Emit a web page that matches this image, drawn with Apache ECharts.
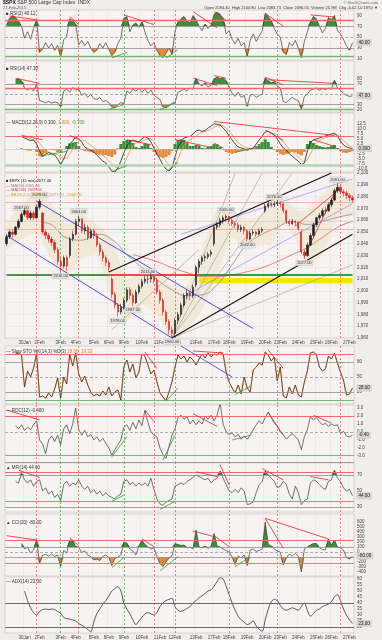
<!DOCTYPE html>
<html><head><meta charset="utf-8">
<script src="https://cdn.jsdelivr.net/npm/echarts@6/dist/echarts.min.js"></script>
<style>html,body{margin:0;padding:0;background:#f2eded}#c{width:382px;height:640px}</style>
</head><body><div id="c"></div><script>
// ---------- categories / ticks ----------
const N = 116;
const categories = Array.from({length: N}, (_, i) => String(i));
const dayTickIdx = [6,11,18,23,29,34,39,45,51,56,63,69,74,80,86,91,97,103,108,114];
const dayTickLabels = ['30Jan','2Feb','3Feb','4Feb','5Feb','6Feb','9Feb','10Feb','11Feb','12Feb','13Feb','17Feb','18Feb','19Feb','20Feb','23Feb','24Feb','25Feb','26Feb','27Feb'];
const redVLines = [10,24,49,74,90,111];
const greenVLines = [18,39,56];

// ---------- panel 1: RSI(2) ----------
const rsi2 = [72,85,90,86,80,70,48,60,46,66, 82,22,28,40,30,38,26,35,14,45, 52,84,80,74,36,44,34,42,30,22,
 26,38,30,40,28,16,22,38,48,85, 88,60,72,76,68,78,60,44,34,40, 26,16,12,20,30,18,60,78,84,88,
 80,76,90,82,70,62,74,66,72,92, 96,92,84,56,62,46,38,48,34,40, 14,44,56,42,52,62,94,88,80,66,
 56,50,22,18,40,34,44,30,12,42, 60,78,88,84,70,58,66,86,82,90, 62,56,46,34,26,40];
const rsi2RedTrends = [[1,89,10,82],[21,88,24,73],[39,91,49,73],[62,97,70,67],[69,97,73,81],[86,94,92,70],[101,91,109,87]];
const rsi2GreenTrends = [[35,12,40,22],[53,12,57,27]];

// ---------- panel 2: RSI(14) ----------
const rsi14 = [null,null,null,78,80,76,62,58,62,56, 70,38,36,34,36,33,35,34,26,56, 60,54,63,58,60,48,52,44,50,42,
 40,44,36,38,34,26,24,30,34,32, 56,52,60,56,62,54,60,52,58,48, 44,40,26,24,28,33,34,54,57,60,
 56,62,60,81,70,66,72,64,68,80, 83,80,82,76,63,52,46,54,44,48, 27,48,50,44,48,50,82,76,72,74,
 66,62,36,34,40,44,40,38,22,46, 50,58,60,62,58,61,59,62,60,77, 62,58,52,48,46,47];
const rsi14RedTrends = [[3,81,11,71],[62,81,70,67],[69,86,73,81],[86,83,92,68],[87,78,109,71]];
const rsi14GreenTrends = [[34,21,39,30],[51,21,56,33]];

// ---------- panel 3: MACD ----------
const macdLine = [null,null,null,null,null,6.3,5.5,4.8,4.2,4.5, 2.5,-1.0,-3.6,-2.5,-1.8,-2.5,-3.0,-5.0,-7.8,-5.0,
 -1.5,2.5,4.0,6.3,5.0,3.5,1.0,0.0,-0.5,-1.5, -3.0,-4.5,-6.0,-7.0,-9.0,-11.0,-11.5,-9.5,-6.0,-2.0,
 1.5,3.5,4.5,4.0,3.6,5.0,6.2,5.5,3.5,0.5, -2.5,-5.0,-8.0,-10.0,-11.0,-9.5,-4.0,1.0,3.5,5.5,
 6.0,6.3,7.5,9.0,9.5,8.8,9.2,10.5,11.5,12.6, 12.4,12.0,10.5,8.8,6.5,4.5,2.5,1.0,0.5,0.0,
 -0.5,0.0,0.5,2.5,4.5,6.5,8.5,8.8,8.0,7.0, 5.0,2.5,0.5,-0.5,-2.5,-3.5,-5.0,-6.0,-7.8,-7.0,
 -1.0,3.5,4.5,5.0,5.5,6.0,6.5,7.0,7.5,8.0, 6.5,4.0,2.0,1.0,0.5,0.3];
const macdSignal = [null,null,null,null,null,6.0,6.0,5.6,5.0,4.6, 4.2,3.0,1.0,-0.5,-1.5,-2.0,-2.4,-3.0,-4.2,-5.0,
 -4.5,-2.5,0.0,2.0,3.8,4.5,4.0,3.0,1.8,0.8, -0.5,-1.8,-3.0,-4.5,-5.8,-7.2,-8.8,-9.8,-9.5,-7.5,
 -4.5,-1.0,1.5,3.0,3.5,3.8,4.5,5.2,5.0,3.8, 1.5,-1.0,-3.8,-6.0,-8.0,-9.0,-8.5,-5.0,-1.5,1.5,
 3.5,4.8,5.6,6.5,7.6,8.4,8.8,9.2,10.0,10.8, 11.6,12.0,11.6,10.5,9.0,7.0,5.0,3.2,2.0,1.0,
 0.4,0.0,0.0,0.8,2.0,3.8,5.5,7.0,7.8,7.8, 7.0,5.5,3.5,1.8,0.0,-1.5,-2.8,-4.2,-5.5,-6.5,
 -5.5,-2.5,0.5,2.8,4.0,5.0,5.6,6.2,6.8,7.3, 7.2,6.0,4.2,2.8,1.6,1.0];
const macdHist = [null,null,null,null,null,0.3,-0.5,-0.8,-0.9,-0.2, -1.5,-3.5,-4.0,-2.0,-0.3,-0.5,-0.6,-1.5,-1.8,-0.2,
 1.5,2.8,3.2,3.5,1.5,-0.5,-1.0,-1.2,-1.5,-2.0, -2.5,-2.8,-3.2,-3.0,-3.5,-4.0,-2.8,0.3,2.5,4.0,
 4.5,4.5,3.0,1.0,0.5,1.5,2.8,2.5,0.5,-1.5, -3.0,-4.0,-4.5,-4.0,-3.0,-1.0,2.5,4.5,4.8,4.5,
 3.0,1.5,1.5,2.0,1.8,0.5,0.4,1.0,1.5,2.5, 2.2,1.0,-0.5,-1.5,-2.0,-2.5,-2.0,-1.5,-1.2,-1.0,
 -0.8,-0.3,0.5,1.5,2.5,3.5,4.8,3.5,1.0,-0.5, -1.5,-2.5,-3.0,-2.5,-2.0,-1.5,-1.8,-2.5,-3.2,-1.5,
 2.5,4.0,3.0,2.0,1.5,1.0,0.8,1.0,1.5,2.0, 0.5,-1.0,-1.8,-2.0,-1.5,-1.0];
const macdRedTrends = [[5,6.8,12,4.65],[21,6.8,24,4.65],[40,4.65,48,2.15],[56,4.65,69,0.5],[69,13.8,109,6.8],[69,3,72,0.5],[86,9.6,92,4.2],[102,4.65,109,1.3]];
const macdGreenTrends = [[11,-3.6,20,-1.2],[35,-11.4,40,-8.2],[53,-11.4,57,-6.6],[76,-1.7,81,0.4]];

// ---------- panel 4: price (open, close, low, high) ----------
const priceOHLC = [
 [2040,2046,2038,2048],[2046,2050,2044,2052],[2050,2048,2045,2052],[2048,2054,2047,2055],[2054,2059,2052,2061],
 [2059,2065,2058,2067],[2065,2068,2063,2070],[2068,2062,2060,2069],[2062,2066,2060,2068],[2066,2062,2060,2068],
 [2062,2071,2061,2073],[2071,2076,2069,2078],[2066,2050,2048,2067],[2050,2047,2044,2052],[2047,2044,2041,2049],
 [2044,2041,2038,2046],[2041,2035,2032,2043],[2035,2025,2022,2037],[2025,2021,2016,2028],[2021,2028,2019,2030],
 [2028,2021,2017,2030],[2030,2044,2028,2046],[2044,2048,2042,2051],[2048,2059,2047,2061],[2059,2061,2055,2064],
 [2061,2051,2049,2062],[2051,2054,2048,2057],[2054,2045,2043,2056],[2045,2051,2044,2053],[2051,2047,2044,2053],
 [2047,2039,2037,2049],[2039,2033,2030,2041],[2033,2028,2025,2035],[2028,2024,2021,2030],[2024,2020,2017,2026],
 [2010,1997,1994,2012],[1997,1988,1985,1999],[1988,1982,1978,1990],[1982,1986,1980,1989],[1986,1992,1984,1994],
 [1992,2001,1990,2003],[2001,1996,1993,2003],[1996,1990,1987,1998],[1990,1999,1989,2001],[1999,2004,1997,2006],
 [2004,2008,2002,2010],[2008,2010,2006,2013],[2010,2010,2006,2013],[2010,2012,2007,2015],[2012,2009,2006,2014],
 [2009,1999,1997,2011],[1999,1992,1989,2001],[1992,1982,1979,1994],[1982,1974,1971,1984],[1974,1967,1963,1976],
 [1967,1964,1960,1970],[1964,1975,1962,1977],[1975,1980,1972,1982],[1980,1988,1978,1990],[1988,1996,1986,1998],
 [1996,1998,1993,2001],[1998,1996,1992,2000],[1996,2003,1994,2005],[2005,2020,2003,2022],[2020,2025,2015,2027],
 [2025,2028,2022,2030],[2028,2029,2025,2031],[2029,2031,2027,2033],[2031,2033,2029,2035],[2040,2054,2038,2056],
 [2054,2056,2052,2058],[2056,2060,2054,2062],[2060,2062,2057,2064],[2062,2063,2059,2065],[2063,2060,2057,2064],
 [2060,2057,2055,2062],[2057,2056,2053,2059],[2056,2052,2050,2058],[2052,2054,2050,2056],[2054,2051,2048,2055],
 [2051,2044,2042,2052],[2044,2049,2043,2051],[2049,2050,2047,2052],[2050,2048,2046,2051],[2048,2051,2047,2053],
 [2051,2052,2049,2054],[2068,2072,2066,2074],[2072,2074,2070,2076],[2074,2073,2071,2075],[2073,2074,2071,2076],
 [2074,2075,2072,2077],[2075,2074,2071,2076],[2074,2068,2066,2075],[2068,2059,2057,2069],[2059,2057,2055,2061],
 [2057,2059,2056,2061],[2059,2058,2055,2060],[2058,2053,2051,2059],[2050,2033,2031,2052],[2033,2030,2027,2035],
 [2030,2039,2029,2041],[2039,2047,2038,2049],[2047,2056,2045,2058],[2056,2062,2054,2063],[2062,2064,2060,2066],
 [2064,2068,2062,2070],[2068,2068,2065,2071],[2068,2073,2067,2075],[2073,2077,2071,2079],[2077,2085,2076,2087],
 [2085,2088,2083,2091],[2088,2084,2082,2089],[2084,2083,2080,2086],[2083,2081,2078,2085],[2081,2079,2076,2083],
 [2079,2077,2075,2081]];
const ma50 = [[12,2058],[15,2056],[20,2045],[25,2043],[30,2048],[35,2043.6],[40,2030.8],[45,2019.7],[50,2009.5],[55,2000.9],[60,1995.8],[65,1996.7],[70,2005.2],[75,2022.3],[80,2039.4],[85,2047.9],[90,2053.9],[95,2059],[100,2056.4],[105,2059],[110,2062.4],[115,2065]];
const ma200 = [[42,2030.8],[50,2024.8],[55,2019.7],[60,2015.5],[65,2012],[70,2012],[75,2013.7],[80,2016.3],[85,2019.7],[90,2024.8],[95,2030.8],[100,2036.8],[105,2045.3],[110,2053.9],[115,2059]];
const bollinger = [[0,2035,2056],[5,2044,2074],[10,2048,2082],[15,2027,2074],[20,2014,2056],[25,2027,2065],[30,2031,2056],[35,1992,2044],[40,1975,2010],[45,1988,2018],[50,1980,2016],[55,1958,2005],[60,1967,2005],[65,1984,2035],[70,2014,2069],[75,2044,2069],[80,2035,2061],[85,2039,2065],[88,2039,2082],[92,2056,2082],[96,2044,2069],[100,2022,2069],[105,2031,2082],[110,2061,2095],[115,2065,2091]];
const priceBlueTrends = [[10,2076,82,1968],[0,2047,55,1960]];
const priceBlackTrends = [[34,2016,108,2100],[55,1960,115,2048]];
const priceGrayTrends = [[55,1960,76,2100],[55,1960,85,2100],[55,1960,95,2100],[55,1960,115,2022],[35,1967,64,2035]];
const priceThinBlueTrends = [[58,2048,115,2095],[58,1994,115,2074]];
const priceRedTrends = [[99,2029,110,2088],[96,2055,111,2087]];
const supportLevel = 2014;
const peakLabelIdx = [5,11,24,47,73,89,110];
const troughLabelIdx = [18,37,42,55,80,99];

// ---------- panel 5: Slow Stochastic ----------
const stochK = [null,null,null,96,98,94,30,62,50,68, 97,10,12,8,18,10,26,48,8,50, 36,96,72,98,56,40,52,34,20,12,
 16,12,22,14,30,12,20,24,4,70, 84,60,76,48,60,96,92,74,56,64, 40,18,10,2,20,40,70,94,86,92,
 80,90,84,74,86,96,88,98,90,96, 94,100,96,60,40,28,18,34,16,50, 28,20,64,70,78,74,100,94,82,90,
 42,70,12,8,30,16,34,14,10,40, 62,98,100,94,70,62,66,92,86,98, 78,60,44,14,16,28];
const stochRedTrends = [[46,100,50,67],[62,102,72,98],[87,104,92,67]];
const stochGreenTrends = [[53,1,57,28],[76,15,81,31]];
const stochBlueTrends = [[58,112,75,50]];

// ---------- panel 6: ROC ----------
const roc = [null,null,null,0.8,0.4,0.9,0.2,0.6,0.3,0.9, 1.4,-1.0,-1.5,-2.7,-1.0,-0.5,-1.2,-0.4,-1.6,0.4,
 0.9,-0.2,1.0,3.0,0.3,-0.4,0.2,-0.6,-0.3,-1.0, -0.6,-1.2,-0.8,-1.4,-2.0,-2.9,-2.2,-1.6,-1.0,0.6,
 0.9,0.2,1.2,0.4,1.5,0.8,2.7,1.2,0.0,-0.4, -0.6,-2.0,-2.8,-3.3,-1.8,-0.4,0.4,1.8,2.1,1.6,
 1.9,1.0,1.5,0.9,1.4,1.0,2.0,1.6,2.1,1.4, 2.1,3.6,1.0,0.0,-0.3,-0.1,-0.6,-0.3,-0.9,-0.5,
 -0.9,-0.4,0.3,0.9,1.4,1.0,1.8,2.5,1.8,1.1, 0.8,0.0,-0.3,-0.9,-0.5,-0.2,-0.6,-1.0,-2.2,-0.6,
 0.3,1.9,1.5,1.8,1.3,0.9,1.1,0.7,1.0,0.8, 0.9,-0.2,0.1,-0.5,-0.6,-0.4];
const rocRedTrends = [[0,2.75,11,1.5],[46,2.75,49,1.3],[62,2.3,70,0.7],[71,3.7,73,0],[87,2.4,92,-0.4],[102,2.1,108,1.1]];
const rocGreenTrends = [[35,-3.1,40,-0.6],[52,-3.5,56,-0.4],[75,-1.0,81,-0.4]];

// ---------- panel 7: MFI ----------
const mfi = [null,null,null,62,60,72,64,60,64,56, 62,64,50,54,46,50,42,46,38,58, 62,56,60,58,64,56,52,56,48,52,
 46,50,44,48,44,42,40,44,46,62, 64,58,61,56,60,57,60,56,66,52, 40,34,32,36,38,40,56,58,60,58,
 62,64,67,70,68,66,64,66,60,64, 66,75,66,58,50,48,52,48,54,50, 33,34,36,48,58,62,75,70,66,62,
 54,56,62,58,46,40,56,48,33,38, 40,60,64,62,58,54,52,62,64,76, 66,62,54,50,52,44];
const mfiRedTrends = [[4,76,11,67],[63,74,70,68],[71,82.5,74,57.5],[85,78,92,64],[101,68,107,64]];
const mfiGreenTrends = [[35,37,39,45],[51,27,56,37]];

// ---------- panel 8: CCI ----------
const cci = [null,null,null,null,null,170,60,100,-20,40, 240,-230,-60,-50,-80,-40,-90,-60,-290,30,
 -20,240,230,110,90,-10,20,-60,-90,-160, -140,-170,-90,-60,-110,-270,-130,-100,-60,200,
 180,60,20,-60,120,240,150,100,60,80, -90,-230,-290,-200,-120,-80,170,150,130,140,
 80,100,60,440,100,80,120,70,110,370, 120,100,60,30,0,-100,-250,-80,-120,-60,
 -270,40,60,10,30,60,600,150,120,60, 20,0,-260,-120,-40,-80,-30,-90,-400,60,
 100,140,170,170,90,50,40,260,140,240, 100,80,40,-110,-140,-80];
const cciRedTrends = [[0,327,10,240],[21,287,24,127],[45,260,49,107],[62,420,69,307],[69,327,74,107],[86,673,107,260],[86,673,92,73]];
const cciGreenTrends = [[35,-313,39,-113],[51,-380,57,-93],[76,-293,81,-93]];

// ---------- panel 9: ADX ----------
const adx = [null,null,null,null,null,null,50,42,36,32, 30,33,34.5,35,34.5,35,34.5,33,31.5,28,
 27,26.5,26,25,23,21.5,20,18,16,24, 31,35,39,42,46,50,52,53.5,50,40,
 35,31,26,22,25,28,31,32,31,30, 32,37,40,42,43,44,37,34,33,34,
 35.5,37,40,42,44.5,46,48,50,51,54, 58,61,60,54,47,40,34,29,26,24,
 22,23,25,21,18,16.5,26,35,41,43, 42,38,35,34,35,36,35,34,37,40,
 34,29,31,34,35,37,38,39,41,45, 47,42,35,30,26,23];

// ---------- builders ----------
const FONT = 'Liberation Sans';
const RED = '#f06a6a', GREEN = '#74b874', GRAY = '#8e8e8e';
const TR = '#ee2222', TG = '#2f9f2f';
const tickMap = {}; dayTickIdx.forEach((i, k) => { tickMap[i] = dayTickLabels[k]; });
const tickSet = new Set(dayTickIdx);

function vLines() {
  return redVLines.map(i => ({xAxis: i, lineStyle: {color: '#e25a5a', width: 0.7, type: [2, 2]}}))
    .concat(greenVLines.map(i => ({xAxis: i, lineStyle: {color: '#3f9f3f', width: 0.7, type: [2, 2]}})));
}
function hl(v, color, w, type) { return {yAxis: v, lineStyle: {color: color, width: w, type: type || 'solid'}}; }
function segs(arr, color, w) {
  return arr.map(t => [{coord: [t[0], t[1]], lineStyle: {color: color, width: w || 0.8, type: 'solid'}}, {coord: [t[2], t[3]]}]);
}
function ml(data) {
  return {symbol: ['none', 'none'], silent: true, animation: false, label: {show: false}, emphasis: {disabled: true}, data: data};
}

const grids = [], xAxes = [], yAxes = [], series = [];
function addPanel(gi, cfg) {
  grids.push({left: 5, right: 28, top: cfg.top, height: cfg.height, show: true, borderColor: '#c9c1c1', borderWidth: 0.6, backgroundColor: '#f7f3f3', outerBoundsMode: 'none'});
  xAxes.push({type: 'category', gridIndex: gi, data: categories, boundaryGap: true,
    axisLine: {show: false}, axisTick: {show: false},
    axisLabel: {show: !!cfg.xLabels, interval: (i) => tickSet.has(i), formatter: (v, i) => tickMap[i] || '', fontSize: 4.5, color: '#444', margin: 2, fontFamily: FONT},
    splitLine: {show: true, interval: (i) => tickSet.has(i), lineStyle: {color: '#e4dcdc', width: 0.5}}});
  const yl = {fontSize: 4.5, color: '#444', margin: 3, fontFamily: FONT};
  if (cfg.labels) yl.customValues = cfg.labels;
  if (cfg.fmt) yl.formatter = cfg.fmt;
  yAxes.push({type: 'value', gridIndex: gi, position: 'right', min: cfg.min, max: cfg.max, interval: cfg.interval,
    axisLine: {show: false}, axisTick: {show: false}, axisLabel: yl,
    splitLine: {show: !!cfg.split, lineStyle: {color: '#e6dfdf', width: 0.5}}});
}
function endLbl(dec) {
  return {show: true, formatter: p => (p.value == null ? '' : Number(p.value).toFixed(dec)), fontSize: 4.5, color: '#222', backgroundColor: '#d6d2d2', padding: [1, 2], distance: 4, fontFamily: FONT};
}
function mainLine(gi, data, mlData, dec, color, width) {
  return {type: 'line', xAxisIndex: gi, yAxisIndex: gi, data: data, symbol: 'none', silent: true, animation: false,
    lineStyle: {color: color || '#3a3a3a', width: width || 0.7}, z: 4, endLabel: endLbl(dec), markLine: ml(mlData)};
}
function fill(gi, data, th, above, color) {
  return {type: 'line', xAxisIndex: gi, yAxisIndex: gi, symbol: 'none', silent: true, animation: false, z: 2,
    data: data.map(v => v == null ? null : (above ? Math.max(v, th) : Math.min(v, th))),
    lineStyle: {width: 0, opacity: 0}, areaStyle: {origin: th, color: color, opacity: 1}};
}
const FG = '#3d8f3d', FO = '#e8893a';

// panel configs (layout only)
addPanel(0, {top: 10, height: 50, min: 8, max: 100, labels: [10, 30, 50, 70, 90]});
addPanel(1, {top: 61, height: 51, min: 16, max: 114, labels: [20, 30, 50, 70, 80]});
addPanel(2, {top: 113, height: 59, min: -11.5, max: 18, labels: [-10, -7.5, -5, -2.5, 0, 2.5, 5, 7.5, 10, 12.5], fmt: v => v.toFixed(1)});
addPanel(3, {top: 173, height: 165, min: 1960, max: 2100, interval: 10, split: true, xLabels: true});
addPanel(4, {top: 346, height: 58, min: -4, max: 112, labels: [20, 50, 80]});
addPanel(5, {top: 405, height: 58, min: -3.875, max: 3.375, labels: [-3, -2, -1, 0, 1, 2, 3], fmt: v => v.toFixed(1)});
addPanel(6, {top: 463, height: 49, min: 23.75, max: 85, labels: [30, 50, 70]});
addPanel(7, {top: 514, height: 62, min: -480, max: 760, labels: [-400, -300, -200, -100, 0, 100, 200, 300, 400, 500, 600]});
addPanel(8, {top: 577, height: 56, min: 15, max: 61.67, labels: [20, 25, 30, 35, 40, 45, 50, 55, 60], xLabels: true});

// P1
series.push(fill(0, rsi2, 70, true, FG), fill(0, rsi2, 30, false, FO));
series.push(mainLine(0, rsi2, vLines().concat([hl(82, RED, 1.4), hl(70, GRAY, 0.8), hl(50, GRAY, 0.7, [3, 2]), hl(30, GRAY, 0.8), hl(15, GREEN, 1.4)],
  segs(rsi2RedTrends, TR), segs(rsi2GreenTrends, TG)), 2));
// P2
series.push(fill(1, rsi14, 70, true, FG), fill(1, rsi14, 30, false, FO));
series.push(mainLine(1, rsi14, vLines().concat([hl(70, GRAY, 0.8), hl(62, RED, 1.4), hl(50, GRAY, 0.7, [3, 2]), hl(30, GRAY, 0.8), hl(22, GREEN, 1.4)],
  segs(rsi14RedTrends, TR), segs(rsi14GreenTrends, TG)), 2));
// P3 MACD
series.push({type: 'bar', xAxisIndex: 2, yAxisIndex: 2, data: macdHist, barWidth: 3, silent: true, animation: false, z: 2,
  itemStyle: {color: p => (p.value >= 0 ? FG : FO)}});
series.push({type: 'line', xAxisIndex: 2, yAxisIndex: 2, data: macdSignal, symbol: 'none', silent: true, animation: false, z: 3, lineStyle: {color: '#e89a4a', width: 0.8}});
series.push(mainLine(2, macdLine, vLines().concat([hl(6.3, RED, 1.2), hl(0, '#c4bcbc', 0.5), hl(-8.2, '#b4d4b4', 2.5)],
  segs(macdRedTrends, TR), segs(macdGreenTrends, TG)), 3, '#222', 0.8));
// P4 price
series.push({type: 'custom', xAxisIndex: 3, yAxisIndex: 3, data: bollinger, encode: {x: 0, y: [1, 2]}, silent: true, z: 0, animation: false, clip: true,
  renderItem: function (params, api) {
    if (params.dataIndex !== 0) return null;
    const up = bollinger.map(r => api.coord([r[0], r[2]]));
    const dn = bollinger.slice().reverse().map(r => api.coord([r[0], r[1]]));
    return {type: 'polygon', shape: {points: up.concat(dn), smooth: 0.25}, style: {fill: '#eee4c8', opacity: 0.6}};
  }});
series.push({type: 'line', xAxisIndex: 3, yAxisIndex: 3, data: ma50, smooth: true, symbol: 'none', silent: true, animation: false, z: 2, lineStyle: {color: '#8a8a8a', width: 0.8}});
series.push({type: 'line', xAxisIndex: 3, yAxisIndex: 3, data: ma200, smooth: true, symbol: 'none', silent: true, animation: false, z: 2, lineStyle: {color: '#e86060', width: 0.8}});
const pricePts = peakLabelIdx.map(i => ({coord: [i, priceOHLC[i][3]], value: priceOHLC[i][3], label: {position: 'top'}}))
  .concat(troughLabelIdx.map(i => ({coord: [i, priceOHLC[i][2]], value: priceOHLC[i][2], label: {position: 'bottom'}})));
series.push({type: 'candlestick', xAxisIndex: 3, yAxisIndex: 3, data: priceOHLC, barWidth: 1.8, silent: true, animation: false, z: 5,
  itemStyle: {color: '#222', color0: '#e02020', borderColor: '#222', borderColor0: '#e02020', borderWidth: 0.6},
  markArea: {silent: true, data: [[{coord: [64, 2011], itemStyle: {color: '#f3e600'}}, {coord: [115, 2006.5]}]]},
  markPoint: {symbol: 'circle', symbolSize: 1, silent: true, animation: false, itemStyle: {color: 'rgba(0,0,0,0)'},
    label: {show: true, fontSize: 4, color: '#333', backgroundColor: '#e6e2e2', borderColor: '#b8b0b0', borderWidth: 0.3, padding: [0.5, 1], distance: 1, fontFamily: FONT, formatter: p => Number(p.value).toFixed(2)},
    data: pricePts},
  markLine: ml(vLines().concat([hl(2075, '#f2b4b4', 1), hl(2052, '#f2b4b4', 1), hl(2059, '#cfc8c8', 0.6)],
    segs(priceGrayTrends, '#9a9a9a', 0.6), segs(priceThinBlueTrends, '#8080ee', 0.6),
    segs(priceBlueTrends, '#3a3ae6', 0.9), segs(priceBlackTrends, '#111', 1.1), segs(priceRedTrends, '#ee2a2a', 0.8),
    [[{coord: [0, supportLevel], lineStyle: {color: '#0a7a0a', width: 1.6, type: 'solid'}}, {coord: [34, supportLevel]}],
     [{coord: [34, supportLevel], lineStyle: {color: '#f01010', width: 1.6, type: 'solid'}}, {coord: [64, supportLevel]}],
     [{coord: [64, supportLevel], lineStyle: {color: '#0a7a0a', width: 1.6, type: 'solid'}}, {coord: [115, supportLevel]}]]))});
// P5 stochastic
series.push({type: 'line', xAxisIndex: 4, yAxisIndex: 4, data: stochK, symbol: 'none', silent: true, animation: false, z: 3, lineStyle: {color: '#e0802a', width: 1.0}});
series.push(mainLine(4, stochK, vLines().concat([hl(96, RED, 1.2), hl(80, GRAY, 0.8), hl(50, GRAY, 0.7, [3, 2]), hl(20, GRAY, 0.8), hl(3, GREEN, 1.2)],
  segs(stochRedTrends, TR), segs(stochGreenTrends, TG), segs(stochBlueTrends, '#3a3ae6', 0.8)), 2, '#2a2a2a', 0.6));
// P6 ROC
series.push(mainLine(5, roc, vLines().concat([hl(2, RED, 1.2), hl(0, GRAY, 0.7, [3, 2]), hl(-2.9, GREEN, 1.2), hl(-3.75, GRAY, 0.8)],
  segs(rocRedTrends, TR), segs(rocGreenTrends, TG)), 2));
// P7 MFI
series.push(fill(6, mfi, 70, true, FG), fill(6, mfi, 30, false, FO));
series.push(mainLine(6, mfi, vLines().concat([hl(74, RED, 1.2), hl(70, GRAY, 0.8), hl(37, GREEN, 1.2), hl(30, GRAY, 0.8)],
  segs(mfiRedTrends, TR), segs(mfiGreenTrends, TG)), 2));
// P8 CCI
series.push(fill(7, cci, 100, true, FG), fill(7, cci, -100, false, FO));
series.push(mainLine(7, cci, vLines().concat([hl(230, RED, 1.2), hl(100, GRAY, 0.8), hl(0, GRAY, 0.7, [3, 2]), hl(-100, GRAY, 0.8), hl(-220, GREEN, 1.2)],
  segs(cciRedTrends, TR), segs(cciGreenTrends, TG)), 2));
// P9 ADX
series.push(mainLine(8, adx, vLines().concat([hl(40, '#6a6a6a', 1.2), hl(20, '#6a6a6a', 1.2)]), 2, '#333', 0.8));
series[series.length - 1].smooth = 0.3;

// ---------- texts ----------
function txt(x, y, text, fill, size, extra) {
  return {type: 'text', x: x, y: y, silent: true, z: 100, style: Object.assign({text: text, fill: fill || '#333', fontSize: size || 4.5, fontFamily: FONT}, extra || {})};
}
const graphic = [
  txt(3, 0.5, '{b|$SPX} S&P 500 Large Cap Index  INDX', '#333', 5, {rich: {b: {fontWeight: 'bold', fontSize: 5, fill: '#222', fontFamily: FONT}}}),
  txt(3, 5.5, '27-Feb-2015', '#555', 4),
  txt(378, 0.5, '© StockCharts.com', '#666', 4, {align: 'right'}),
  txt(378, 5.5, 'Open 2094.40  High 2100.80  Low 2083.73  Close 2096.05  Volume 25.9M  Chg -0.02 (-0.18%) \u25BC', '#333', 4, {align: 'right'}),
  txt(6, 11, '\u25A0 RSI(2) 40.12', '#333'),
  txt(6, 66, '\u25A0 RSI(14) 47.30', '#333'),
  txt(6, 120, '{k|\u2014 MACD(12,26,9) 0.300,} {o|1.000,} {g|-0.700}', '#333', 4.5, {rich: {k: {fill: '#333', fontSize: 4.5}, o: {fill: '#e0802a', fontSize: 4.5}, g: {fill: '#3d8f3d', fontSize: 4.5}}}),
  txt(6, 179, '\u25A0 $SPX (15 min) 2077.46', '#111', 4),
  txt(6, 183.5, '\u2014 MA(50) 2065.04', '#888', 4),
  txt(6, 188, '\u2014 MA(200) 2059.00', '#e04040', 4),
  txt(6, 192.5, '\u2014 BB(20,2.0) 2090.60 - 2077.80 - 2065.00', '#c8a800', 4),
  txt(6, 349, '{k|\u2014 Slow STO %K(14,3) %D(3)} {v|28.00, 19.33}', '#333', 4.5, {rich: {k: {fill: '#333', fontSize: 4.5}, v: {fill: '#e0802a', fontSize: 4.5}}}),
  txt(6, 408, '\u2014 ROC(12) -0.400', '#333'),
  txt(6, 465, '\u25B2 MFI(14) 44.00', '#333'),
  txt(6, 520, '\u25B2 CCI(20) -80.00', '#333'),
  txt(6, 579, '\u2014 ADX(14) 23.00', '#333')
];

const chart = echarts.init(document.getElementById('c'), null, {renderer: 'canvas'});
chart.setOption({
  backgroundColor: '#f2eded', animation: false,
  grid: grids, xAxis: xAxes, yAxis: yAxes, series: series, graphic: graphic
});
</script></body></html>
